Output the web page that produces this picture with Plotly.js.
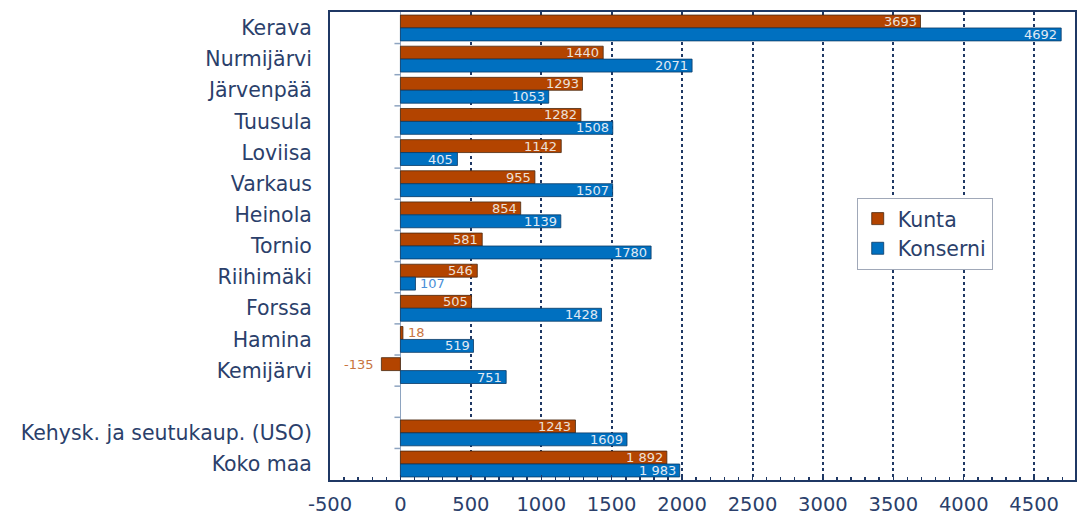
<!DOCTYPE html>
<html>
<head>
<meta charset="utf-8">
<script src="https://cdn.plot.ly/plotly-3.0.1.min.js"></script>
<style>html,body{margin:0;padding:0;background:#fff;}#chart{width:1077px;height:519px;}</style>
</head>
<body>
<div id="chart"></div>
<script>
const categories = ['Kerava','Nurmijärvi','Järvenpää','Tuusula','Loviisa','Varkaus','Heinola','Tornio','Riihimäki','Forssa','Hamina','Kemijärvi',' ','Kehysk. ja seutukaup. (USO)','Koko maa'];
const kunta =    [3693,1440,1293,1282,1142,955,854,581,546,505,18,-135,null,1243,1892];
const konserni = [4692,2071,1053,1508,405,1507,1139,1780,107,1428,519,751,null,1609,1983];
const kuntaText =    ['3693','1440','1293','1282','1142','955','854','581','546','505','18','-135','','1243','1 892'];
const konserniText = ['4692','2071','1053','1508','405','1507','1139','1780','107','1428','519','751','','1609','1 983'];
const xTicks = [-500,0,500,1000,1500,2000,2500,3000,3500,4000,4500];

const navy = '#1F3864';
const textNavy = '#2B3F6B';
const cKunta = '#B34400';
const cKons = '#0070C0';
const FONT = 'DejaVu Sans, Verdana, sans-serif';
const XMIN = -500, XMAX = 4790;
const BARGAP = 0.17;

const traces = [
  {type:'bar', orientation:'h', name:'Kunta', y:categories, x:kunta,
   marker:{color:cKunta, line:{color:'#4a2a10', width:0.8}}, hoverinfo:'x+y'},
  {type:'bar', orientation:'h', name:'Konserni', y:categories, x:konserni,
   marker:{color:cKons, line:{color:'#0a3a66', width:0.8}}, hoverinfo:'x+y'}
];

// value labels, placed through the axes (x = value, y = category)
const slotPx = (519 - 12 - 39) / categories.length;
const half = slotPx * (1 - BARGAP) / 4;
const annotations = [];
function addLabels(vals, texts, shift, inColor, outColor){
  vals.forEach((v, i) => {
    if (v === null) return;
    const small = Math.abs(v) < 200;
    annotations.push({
      x: v, y: categories[i], xref:'x', yref:'y', text: texts[i], showarrow:false,
      xanchor: small ? (v < 0 ? 'right' : 'left') : 'right',
      xshift: small ? (v < 0 ? -5 : 3) : -2,
      yshift: shift,
      font:{family:FONT, size:13, color: small ? outColor : inColor}
    });
  });
}
addLabels(kunta, kuntaText, half, '#EDE0D8', '#C8743E');
addLabels(konserni, konserniText, -half, '#E0EAF4', '#4A8FD8');

// tick marks on the zero line at category boundaries
const zeroFrac = (0 - XMIN) / (XMAX - XMIN);
const shapes = [];
for (let i = 0; i < categories.length - 1; i++) {
  shapes.push({type:'line', xref:'paper', yref:'y', x0:zeroFrac - 0.008, x1:zeroFrac,
    y0:i+0.5, y1:i+0.5, line:{color:'#8EA4C0', width:1.5}, layer:'above'});
}

const layout = {
  width:1077, height:519,
  margin:{l:330, r:2, t:12, b:39},
  paper_bgcolor:'#fff', plot_bgcolor:'#fff',
  barmode:'group', bargap:BARGAP, bargroupgap:0,
  font:{family:FONT, color:textNavy},
  showlegend:true,
  legend:{x:0.707, y:0.603, xanchor:'left', yanchor:'top',
    bordercolor:'#A0A8B8', borderwidth:1, bgcolor:'#fff',
    font:{size:20.5, color:textNavy}, tracegroupgap:0},
  shapes: shapes,
  annotations: annotations,
  xaxis:{
    range:[XMIN, XMAX], tickvals:xTicks, ticktext:xTicks.map(String),
    showgrid:true, gridcolor:navy, gridwidth:2, griddash:'dot',
    zeroline:true, zerolinecolor:'#8EA4C0', zerolinewidth:1.5,
    showline:true, linecolor:navy, linewidth:2, mirror:true,
    ticks:'inside', ticklen:5, tickcolor:navy, tickwidth:1.5,
    minor:{dtick:100, tick0:0, ticks:'inside', ticklen:3, tickcolor:navy, showgrid:false},
    tickfont:{size:19.5, color:textNavy}, ticklabelstandoff:6
  },
  xaxis2:{
    overlaying:'x', side:'top', anchor:'y', range:[XMIN, XMAX], tickvals:xTicks,
    showticklabels:false, showgrid:false, zeroline:false, showline:false,
    ticks:'inside', ticklen:4, tickcolor:navy, tickwidth:1.5
  },
  yaxis:{
    type:'category', categoryorder:'array', categoryarray:categories,
    autorange:'reversed',
    showgrid:false, zeroline:false,
    showline:true, linecolor:navy, linewidth:2, mirror:true,
    ticks:'', ticklabelstandoff:12,
    tickfont:{size:20.5, color:textNavy}
  }
};

Plotly.newPlot('chart', traces, layout, {displayModeBar:false, staticPlot:true});
</script>
</body>
</html>
